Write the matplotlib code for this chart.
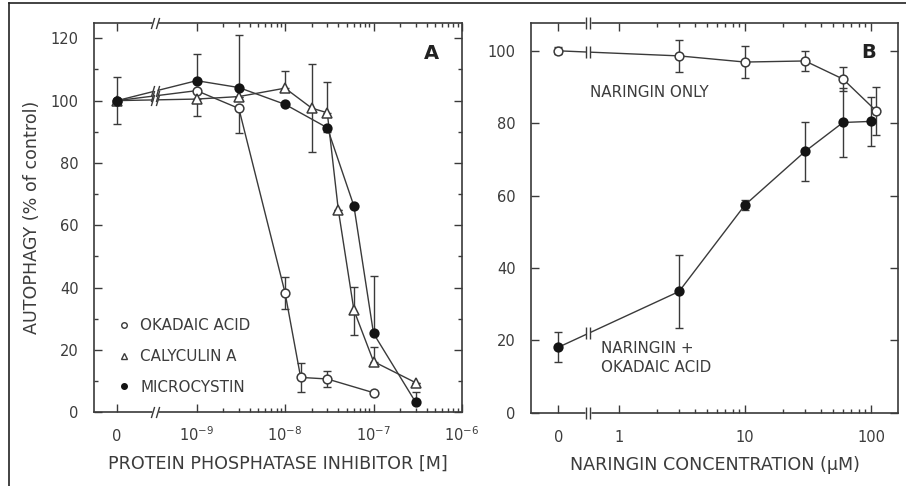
import numpy as np
import matplotlib.pyplot as plt
from matplotlib.lines import Line2D
from matplotlib.path import Path
from matplotlib import transforms

plt.rcParams['font.family'] = 'DejaVu Sans'
plt.rcParams['mathtext.fontset'] = 'dejavusans'

INK = '#3a3a3a'
TXT = '#3c3c3c'
FILL = '#141414'

# ---- panel A: protein phosphatase inhibitors (M) ----
oa_conc = [0, 1e-9, 3e-9, 1e-8, 1.5e-8, 3e-8, 1e-7]
oa_val = [100, 103.2, 97.5, 38.3, 11.2, 10.7, 6.3]
oa_lo = [0, 0, 8, 5, 4.7, 2.5, 0]
oa_hi = [0, 0, 0, 5, 4.7, 2.5, 0]

cal_conc = [0, 1e-9, 3e-9, 1e-8, 2e-8, 3e-8, 4e-8, 6e-8, 1e-7, 3e-7]
cal_val = [100, 100.5, 101.3, 104, 97.6, 96.1, 64.9, 32.8, 16.3, 9.5]
cal_lo = [0, 5.5, 0, 0, 14, 0, 0, 8, 0, 0]
cal_hi = [0, 0, 0, 5.5, 14, 10, 0, 7.5, 4.7, 0]

mc_conc = [0, 1e-9, 3e-9, 1e-8, 3e-8, 6e-8, 1e-7, 3e-7]
mc_val = [100, 106.4, 104.2, 98.8, 91.3, 66.2, 25.3, 3.2]
mc_lo = [7.5, 0, 0, 0, 1.5, 0, 0, 0]
mc_hi = [7.5, 8.5, 17, 0, 0, 0, 18.4, 3.4]

# ---- panel B: naringin (uM) ----
nar_conc = [0, 3, 10, 30, 60, 110]
nar_val = [100, 98.6, 96.9, 97.2, 92.2, 83.4]
nar_err = [1, 4.4, 4.3, 2.7, 3.3, 6.7]

naroa_conc = [0, 3, 10, 30, 60, 100]
naroa_val = [18.1, 33.5, 57.4, 72.2, 80.2, 80.5]
naroa_err = [4.2, 10.2, 1.5, 8.2, 9.6, 6.7]

A_ZERO, A_BREAK = -9.9, -9.47
B_ZERO, B_BREAK = -0.48, -0.243


def xpos(c, zero):
    # log axis with the zero dose put left of the break
    c = np.asarray(c, float)
    return np.where(c > 0, np.log10(np.where(c > 0, c, 1)), zero)


slash = Path([(-0.75, -1), (-0.15, 1), (0.15, -1), (0.75, 1)],
             [Path.MOVETO, Path.LINETO, Path.MOVETO, Path.LINETO])
bars = Path([(-0.4, -1), (-0.4, 1), (0.4, -1), (0.4, 1)],
            [Path.MOVETO, Path.LINETO, Path.MOVETO, Path.LINETO])


def break_mark(ax, x, y, mark, trans=None, gap=4.5):
    trans = ax.transData if trans is None else trans
    ax.plot(x, y, 's', ms=gap, mfc='white', mec='none', transform=trans,
            clip_on=False, zorder=5)
    ax.plot(x, y, marker=mark, ms=8, mfc='none', mec=INK, mew=1.0,
            ls='none', transform=trans, clip_on=False, zorder=6)


def series(ax, x, y, err, marker, filled, ms):
    ax.errorbar(x, y, yerr=err, fmt='none', ecolor=INK, elinewidth=1.0,
                capsize=3.1, capthick=1.0, zorder=2)
    ax.plot(x, y, '-', color=INK, lw=1.0, marker=marker, ms=ms,
            mfc=FILL if filled else 'white', mec=FILL if filled else INK,
            mew=1.1, zorder=3)


def style(ax):
    for s in ax.spines.values():
        s.set_color(INK)
        s.set_linewidth(1.2)
    ax.tick_params(which='both', direction='in', top=True, right=True,
                   color=INK, width=1.0, labelcolor=TXT, labelsize=10.5)
    ax.tick_params(which='major', length=6)
    ax.tick_params(which='minor', length=3)
    ax.tick_params(axis='y', pad=11)


fig = plt.figure(figsize=(9.06, 4.86), dpi=100)
axA = fig.add_axes([0.1038, 0.1516, 0.4061, 0.8017])
axB = fig.add_axes([0.5858, 0.1508, 0.4057, 0.8012])

# ---------- A ----------
series(axA, xpos(oa_conc, A_ZERO), oa_val, [oa_lo, oa_hi], 'o', False, 6.3)
series(axA, xpos(cal_conc, A_ZERO), cal_val, [cal_lo, cal_hi], '^', False, 7.2)
series(axA, xpos(mc_conc, A_ZERO), mc_val, [mc_lo, mc_hi], 'o', True, 6.3)

axA.set_xlim(-10.16, -6.0)
axA.set_ylim(0, 125)
decades = [1e-9, 1e-8, 1e-7, 1e-6]
axA.set_xticks(np.append(A_ZERO, np.log10(decades)))
axA.set_xticklabels(['0'] + [r'$\mathregular{10^{%d}}$' % np.log10(d) for d in decades])
axA.set_xticks(np.log10(np.outer(decades[:-1], np.arange(2, 10)).ravel()), minor=True)
axA.set_yticks(np.arange(0, 121, 20))
axA.set_yticks(np.arange(10, 121, 20), minor=True)
style(axA)
axA.tick_params(axis='x', pad=21)
for lab in axA.get_xticklabels():
    lab.set_va('baseline')

tA = transforms.blended_transform_factory(axA.transData, axA.transAxes)
for yy in (0, 1):
    break_mark(axA, A_BREAK, yy, slash, tA)
for cx, cy in ((oa_conc, oa_val), (cal_conc, cal_val), (mc_conc, mc_val)):
    px = xpos(cx[:2], A_ZERO)
    yb = np.interp(A_BREAK, px, cy[:2])
    break_mark(axA, A_BREAK, yb, slash, gap=3)

axA.set_xlabel('PROTEIN PHOSPHATASE INHIBITOR [M]', fontsize=12.6, color=TXT)
axA.xaxis.set_label_coords(0.5, -0.11)
fig.text(0.0353, 0.5525, 'AUTOPHAGY (% of control)', rotation=90, ha='center',
         va='center', fontsize=12.6, color=TXT)
axA.text(0.918, 0.922, 'A', transform=axA.transAxes, ha='center', va='center',
         fontsize=14, fontweight='bold', color='#222')

handles = [Line2D([], [], ls='none', marker='o', ms=4, mfc='white', mec=INK, mew=1),
           Line2D([], [], ls='none', marker='^', ms=4.5, mfc='white', mec=INK, mew=1),
           Line2D([], [], ls='none', marker='o', ms=4, mfc=FILL, mec=FILL)]
axA.legend(handles, ['OKADAIC ACID', 'CALYCULIN A', 'MICROCYSTIN'], loc='lower left',
           bbox_to_anchor=(0.072, 0.045), frameon=False, fontsize=10.9,
           labelcolor=TXT, handlelength=0.5, handletextpad=0.8,
           labelspacing=1.05, borderpad=0, borderaxespad=0)

# ---------- B ----------
series(axB, xpos(nar_conc, B_ZERO), nar_val, nar_err, 'o', False, 6.3)
series(axB, xpos(naroa_conc, B_ZERO), naroa_val, naroa_err, 'o', True, 6.3)

axB.set_xlim(-0.70, 2.217)
axB.set_ylim(0, 107.6)
axB.set_xticks([B_ZERO, 0, 1, 2])
axB.set_xticklabels(['0', '1', '10', '100'])
axB.set_xticks(np.log10(np.outer([1, 10], np.arange(2, 10)).ravel()), minor=True)
axB.set_yticks(np.arange(0, 101, 20))
style(axB)
axB.tick_params(axis='x', pad=12.5)

tB = transforms.blended_transform_factory(axB.transData, axB.transAxes)
for yy in (0, 1):
    break_mark(axB, B_BREAK, yy, bars, tB)
for cx, cy in ((nar_conc, nar_val), (naroa_conc, naroa_val)):
    px = xpos(cx[:2], B_ZERO)
    yb = np.interp(B_BREAK, px, cy[:2])
    break_mark(axB, B_BREAK, yb, bars, gap=3)

axB.set_xlabel('NARINGIN CONCENTRATION (\u00b5M)', fontsize=12.6, color=TXT)
axB.xaxis.set_label_coords(0.5, -0.11)
axB.text(0.918, 0.926, 'B', transform=axB.transAxes, ha='center', va='center',
         fontsize=14, fontweight='bold', color='#222')
axB.text(0.161, 0.8236, 'NARINGIN ONLY', transform=axB.transAxes, ha='left',
         va='center', fontsize=10.9, color=TXT)
axB.text(0.192, 0.1405, 'NARINGIN +\nOKADAIC ACID', transform=axB.transAxes,
         ha='left', va='center', fontsize=10.9, color=TXT, linespacing=1.35)

# outer frame (top and left only)
fig.add_artist(Line2D([0.0099, 0.0099], [0, 0.9938], transform=fig.transFigure,
                      color='#222', lw=1.2))
fig.add_artist(Line2D([0.0099, 1], [0.9938, 0.9938], transform=fig.transFigure,
                      color='#222', lw=1.2))

fig.savefig('out.png', dpi=100)
